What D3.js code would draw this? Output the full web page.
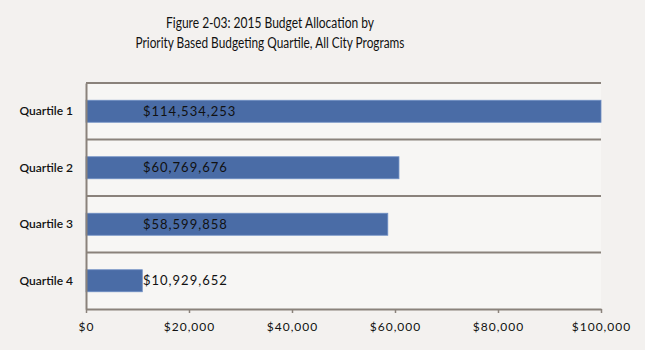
<!DOCTYPE html>
<html>
<head>
<meta charset="utf-8">
<script src="https://cdn.jsdelivr.net/npm/d3@7"></script>
<style>
  body { margin: 0; background: #f3f1ef; }
  text { font-family: "Lato", "Liberation Sans", sans-serif; fill: #111; }
</style>
</head>
<body>
<div id="chart"></div>
<script>
// data
const quartiles = ["Quartile 1", "Quartile 2", "Quartile 3", "Quartile 4"];
const budgets = [114534253, 60769676, 58599858, 10929652];
const valueLabels = ["$114,534,253", "$60,769,676", "$58,599,858", "$10,929,652"];
const xTicks = [0, 20000, 40000, 60000, 80000, 100000];
const titleLines = ["Figure 2-03: 2015 Budget Allocation by", "Priority Based Budgeting Quartile, All City Programs"];

(function () {
  const W = 645, H = 350;
  const margin = { top: 83, right: 44, bottom: 41, left: 86 },
    width = W - margin.left - margin.right,
    height = H - margin.top - margin.bottom;

  const svg = d3.select("#chart")
    .append("svg")
    .attr("width", W)
    .attr("height", H);

  // title (squeezed a little, the original font is narrow)
  const titleWidths = [208, 269];
  svg.append("g")
    .selectAll("text")
    .data(titleLines)
    .join("text")
    .attr("x", 270)
    .attr("y", (d, i) => 28 + i * 20)
    .attr("text-anchor", "middle")
    .attr("textLength", (d, i) => titleWidths[i])
    .attr("lengthAdjust", "spacingAndGlyphs")
    .style("font-size", "14.5px")
    .text(d => d);

  const g = svg.append("g")
    .attr("transform", `translate(${margin.left},${margin.top})`);

  // plot background
  g.append("rect")
    .attr("width", width)
    .attr("height", height)
    .attr("fill", "#f7f6f4");

  // axis values are in thousands of dollars
  const x = d3.scaleLinear()
    .domain([0, 100000])
    .range([0, width])
    .clamp(true);

  const y = d3.scaleBand()
    .domain(quartiles)
    .range([0, height]);

  // horizontal separators between bands
  g.selectAll(".sep")
    .data(quartiles)
    .join("line")
    .attr("x1", 0)
    .attr("x2", width)
    .attr("y1", d => y(d))
    .attr("y2", d => y(d))
    .attr("stroke", "#8a827b")
    .attr("stroke-width", 2);

  // bars
  const barH = 22;
  g.selectAll(".bar")
    .data(budgets)
    .join("rect")
    .attr("x", 0)
    .attr("y", (d, i) => y(quartiles[i]) + y.bandwidth() / 2 - barH / 2)
    .attr("width", d => x(d / 1000))
    .attr("height", barH)
    .attr("fill", "#4a6ca6")
    .attr("stroke", "#6f8fc4")
    .attr("stroke-width", 0.8);

  // value labels
  g.selectAll(".lbl")
    .data(valueLabels)
    .join("text")
    .attr("x", 57)
    .attr("y", (d, i) => y(quartiles[i]) + y.bandwidth() / 2)
    .attr("dy", "0.36em")
    .style("font-size", "13px")
    .style("letter-spacing", "1px")
    .text(d => d);

  // x axis
  const xAxis = g.append("g")
    .attr("transform", `translate(0,${height})`)
    .call(d3.axisBottom(x)
      .tickValues(xTicks)
      .tickSize(4)
      .tickSizeOuter(0)
      .tickPadding(9)
      .tickFormat(d => "$" + d3.format(",")(d)));
  xAxis.select(".domain").attr("stroke", "#8a827b").attr("stroke-width", 2);
  xAxis.selectAll(".tick line").attr("stroke", "#8a827b").attr("stroke-width", 1.5);
  xAxis.selectAll(".tick text")
    .style("font-size", "12px")
    .style("letter-spacing", "1px")
    .attr("fill", "#111");

  // y axis
  const yAxis = g.append("g")
    .call(d3.axisLeft(y).tickSize(0).tickPadding(13));
  yAxis.select(".domain").attr("stroke", "#8a827b").attr("stroke-width", 2);
  yAxis.selectAll(".tick text")
    .style("font-size", "12px")
    .style("font-weight", "600")
    .attr("fill", "#111");
}());
</script>
</body>
</html>
